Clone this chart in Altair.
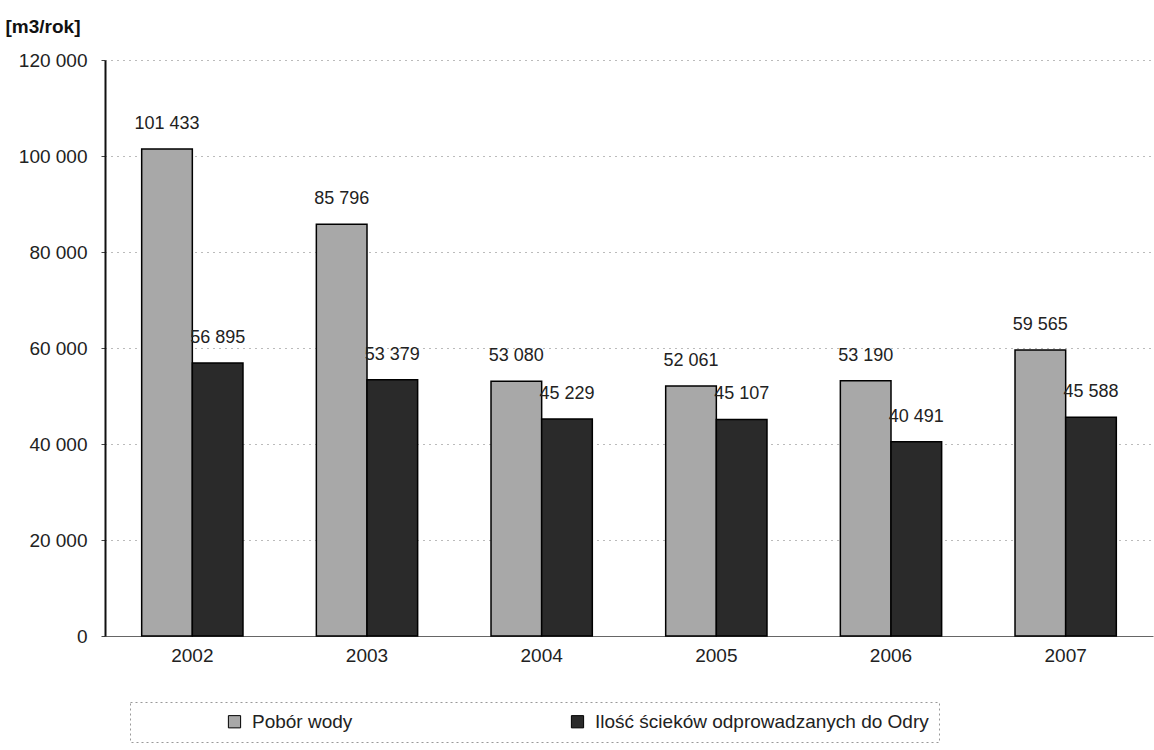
import altair as alt
import pandas as pd

years = ["2002", "2003", "2004", "2005", "2006", "2007"]
pobor = [101433, 85796, 53080, 52061, 53190, 59565]
scieki = [56895, 53379, 45229, 45107, 40491, 45588]
series = ["Pobór wody", "Ilość ścieków odprowadzanych do Odry"]
colors = ["#a8a8a8", "#2a2a2a"]
y_ticks = [0, 20000, 40000, 60000, 80000, 100000, 120000]

rows = []
for y, a, b in zip(years, pobor, scieki):
    rows.append({"rok": y, "seria": series[0], "wartosc": a})
    rows.append({"rok": y, "seria": series[1], "wartosc": b})
df = pd.DataFrame(rows)
df["etykieta"] = df["wartosc"].map(lambda v: f"{v:,}".replace(",", " "))

FONT = "Liberation Sans"

x_enc = alt.X(
    "rok:N",
    sort=years,
    scale=alt.Scale(paddingInner=0.42, paddingOuter=0.21),
    axis=alt.Axis(
        title=None, labelAngle=0, labelFontSize=19, labelFont=FONT, labelColor="#222",
        labelPadding=10, domainColor="#666", domainWidth=1, ticks=False,
    ),
)
xoff = alt.XOffset("seria:N", sort=series, scale=alt.Scale(paddingInner=0, paddingOuter=0))
y_enc = alt.Y(
    "wartosc:Q",
    scale=alt.Scale(domain=[0, 120000], nice=False),
    axis=alt.Axis(
        values=y_ticks,
        labelExpr="replace(format(datum.value, ','), /,/g, ' ')",
        labelFontSize=19, labelFont=FONT, labelColor="#222", labelPadding=14,
        tickSize=4, tickColor="#444",
        domainColor="#111", domainWidth=2,
        grid=True, gridColor="#777", gridDash=[1, 5], gridWidth=1,
        title="[m3/rok]", titleAngle=0, titleAlign="left", titleBaseline="alphabetic",
        titleX=-100, titleY=-28, titleFontSize=19, titleFont=FONT, titleFontWeight="bold",
        titleColor="#111",
    ),
)

bars = alt.Chart(df).mark_bar(stroke="#000", strokeWidth=1.5).encode(
    x=x_enc,
    xOffset=xoff,
    y=y_enc,
    color=alt.Color(
        "seria:N",
        sort=series,
        scale=alt.Scale(domain=series, range=colors),
        legend=alt.Legend(
            title=None, orient="none", legendX=25, legendY=642,
            direction="horizontal", columns=2, columnPadding=130,
            symbolType="square", symbolSize=150, symbolStrokeColor="#000",
            symbolStrokeWidth=1, symbolOffset=85,
            labelFontSize=19, labelFont=FONT, labelColor="#222", labelOffset=8,
            labelLimit=1000,
            padding=10, strokeColor="#999",
        ),
    ),
)

labels = alt.Chart(df).mark_text(
    baseline="middle", align="center", dy=-25, fontSize=18, font=FONT, color="#222"
).encode(
    x=alt.X("rok:N", sort=years),
    xOffset=alt.XOffset("seria:N", sort=series),
    y=alt.Y("wartosc:Q"),
    text="etykieta:N",
)

chart = (
    alt.layer(bars, labels)
    .properties(
        width=1048, height=576,
        autosize=alt.AutoSizeParams(type="none"),
        padding={"left": 105, "top": 60, "right": 1, "bottom": 114},
        background="white",
    )
    .configure_view(stroke=None)
    .configure_legend(strokeDash=[2, 3])
)

chart.save("out.html", embed_options={"renderer": "svg", "actions": False})
